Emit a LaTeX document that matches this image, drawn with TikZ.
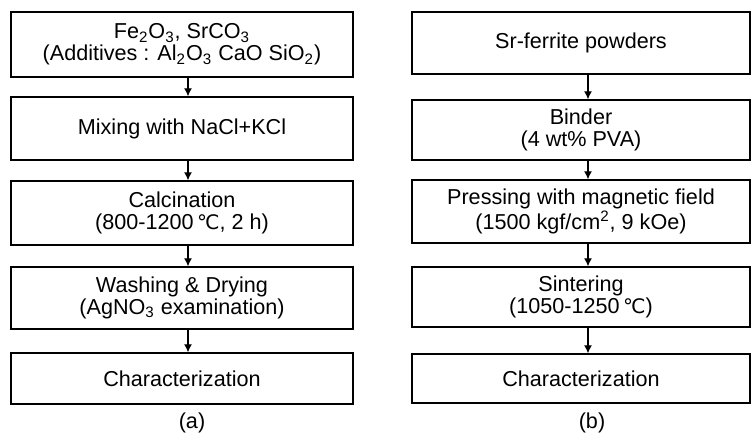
\documentclass[tikz,border=0pt]{standalone}
\usepackage{fontspec}
\setmainfont{Liberation Sans}
\newfontfamily\symfont{DejaVu Sans}
\usetikzlibrary{arrows.meta}
\newcommand{\degC}{{\symfont\fontsize{10}{11}\selectfont ℃}}

\begin{document}
\begin{tikzpicture}[x=0.5pt, y=-0.5pt, >={Latex[length=4pt,width=4pt]},
  txt/.style={font=\fontsize{10.8}{11}\selectfont, align=center},
  stepa/.style={txt, draw, line width=0.7pt, inner sep=0pt, minimum width=171pt},
  stepb/.style={txt, draw, line width=0.7pt, inner sep=0pt, minimum width=169pt},
  flow/.style={->, line width=0.6pt}]
  \useasboundingbox (0,0) rectangle (751,435);
  % (a) powder route.
  \node[stepa, minimum height=32.5pt] (A1) at (182,44.5)
    {Fe\textsubscript{2}O\textsubscript{3}, SrCO\textsubscript{3}\\(Additives : Al\textsubscript{2}O\textsubscript{3} CaO SiO\textsubscript{2})};
  \node[stepa, minimum height=31.5pt] (A2) at (182,128.5) {Mixing with NaCl+KCl};
  \node[stepa, minimum height=32pt]   (A3) at (182,213)   {Calcination\\(800-1200\,\degC, 2 h)};
  \node[stepa, minimum height=31pt]   (A4) at (182,298)   {Washing \& Drying\\(AgNO\textsubscript{3} examination)};
  \node[stepa, minimum height=25.5pt] (A5) at (182,378.5) {Characterization};
  \draw[flow] ([xshift=3pt]A1.south) -- ([xshift=3pt]A2.north);
  \draw[flow] ([xshift=3pt]A2.south) -- ([xshift=3pt]A3.north);
  \draw[flow] ([xshift=3pt]A3.south) -- ([xshift=3pt]A4.north);
  \draw[flow] ([xshift=3pt]A4.south) -- ([xshift=3pt]A5.north);
  \node[txt] (la) at (192,423) {(a)};
  % (b) magnet route.
  \node[stepb, minimum height=31pt]   (B1) at (581,43)    {Sr-ferrite powders};
  \node[stepb, minimum height=30pt]   (B2) at (581,130)   {Binder\\(4 wt\% PVA)};
  \node[stepb, minimum height=31.5pt] (B3) at (581,211.5) {Pressing with magnetic field\\(1500 kgf/cm\textsuperscript{2}, 9 kOe)};
  \node[stepb, minimum height=30pt]   (B4) at (581,297)   {Sintering\\(1050-1250\,\degC)};
  \node[stepb, minimum height=24.5pt] (B5) at (581,378.5) {Characterization};
  \draw[flow] ([xshift=3.5pt]B1.south) -- ([xshift=3.5pt]B2.north);
  \draw[flow] ([xshift=3.5pt]B2.south) -- ([xshift=3.5pt]B3.north);
  \draw[flow] ([xshift=3.5pt]B3.south) -- ([xshift=3.5pt]B4.north);
  \draw[flow] ([xshift=3.5pt]B4.south) -- ([xshift=3.5pt]B5.north);
  \node[txt] (lb) at (592,423) {(b)};
\end{tikzpicture}
\end{document}
